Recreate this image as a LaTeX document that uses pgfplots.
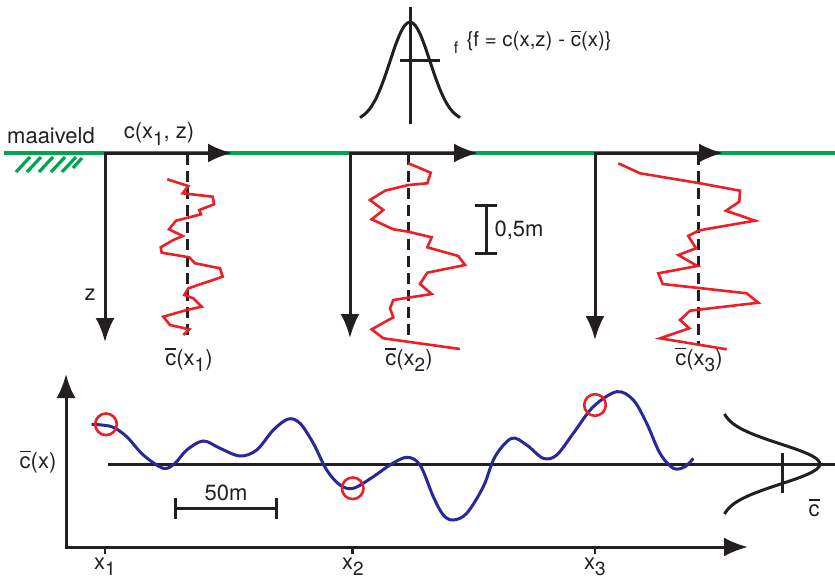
\documentclass[border=0pt]{standalone}
\usepackage{pgfplots}
\pgfplotsset{compat=1.18}
\usepackage{fontspec}
\setmainfont{TeX Gyre Heros}
\usetikzlibrary{arrows.meta}
\definecolor{gr}{RGB}{0,165,80}
\definecolor{rd}{RGB}{236,30,38}
\definecolor{bl}{RGB}{40,40,150}
\definecolor{ink}{RGB}{35,31,32}
\newcommand{\cb}{\makebox[0pt][l]{\raisebox{0.72em}{\rule{0.5em}{0.065em}}}c}
\newcommand{\sub}[1]{\raisebox{-0.55ex}{\fontsize{19}{19}\selectfont #1}}
\tikzset{ar/.style={{Latex[length=24pt,width=19pt]}-{Latex[length=24pt,width=19pt]}}}
\begin{document}
\begin{tikzpicture}
\fontsize{22}{26}\selectfont
\begin{axis}[scale only axis, width=835pt, height=581pt,
  xmin=0, xmax=835, ymin=0, ymax=581, y dir=reverse,
  hide axis, clip=false]
% ground line
\addplot[gr, line width=3.4pt] coordinates {(4,153)(835,153)};
\addplot[gr, line width=3.2pt] coordinates {(16,172)(30,157)};
\addplot[gr, line width=3.2pt] coordinates {(27,172)(41,157)};
\addplot[gr, line width=3.2pt] coordinates {(39,172)(53,157)};
\addplot[gr, line width=3.2pt] coordinates {(51,172)(65,157)};
\addplot[gr, line width=3.2pt] coordinates {(62,172)(76,157)};
\addplot[gr, line width=3.2pt] coordinates {(73,168)(82,158)};
% profile axes
\addplot[ink, line width=3pt, ar] coordinates {(232,153)(105,153)(105,342)};
\addplot[ink, line width=3pt, ar] coordinates {(478,153)(350,153)(350,338)};
\addplot[ink, line width=3pt, ar] coordinates {(723,153)(595,153)(595,340)};
% dashed means
\addplot[ink, line width=3pt, dash pattern=on 11pt off 6pt] coordinates {(187,154)(187,336)};
\addplot[ink, line width=3pt, dash pattern=on 11pt off 6pt] coordinates {(408,154)(408,340)};
\addplot[ink, line width=3pt, dash pattern=on 11pt off 6pt] coordinates {(698,154)(698,346)};
% red profiles
\addplot[rd, line width=2.6pt] coordinates {(167.3,179.3)(188.3,186)(182.7,193.3)(212.7,196.7)(214,204.3)(199.3,210)(201,214.3)(176,220.7)(169,229.3)(177.3,233.3)(182.7,236)(173.3,240)(160.7,247.3)(161.7,252.7)(189.3,257.3)(195,263.3)(220,268.3)(222.7,276.7)(188.3,288.3)(184.3,295)(193.3,298.3)(201.7,306.7)(186.7,310)(163.3,316.7)(170,325)(189.3,329.3)(183.3,335)};
\addplot[rd, line width=2.6pt] coordinates {(408.3,163.3)(430.7,172.7)(427.3,183.3)(408.3,185)(385,190.7)(370,200)(383.3,210)(371.7,219.3)(393.3,229.3)(408.3,231.7)(431.7,237.3)(427.3,247.3)(458.3,256)(465,265)(427.3,272.7)(420,284)(431.7,294)(393.3,300)(390,308.3)(393.3,317.3)(371.7,329.3)(383.3,338.3)(460,349)};
\addplot[rd, line width=2.6pt] coordinates {(618.3,163.3)(640,173.3)(700,183.3)(740,190.7)(739.3,201.7)(726,210.7)(755,220.7)(705,229.3)(698.3,230.7)(688.3,236)(696,248.3)(678.3,255)(697.3,266)(658.3,273.3)(662.7,284)(746.7,293.3)(758.3,302.7)(690,310.7)(680,320)(689.3,328.3)(660,338.3)(726.7,349.3)};
% 0,5m scale
\addplot[ink, line width=3pt] coordinates {(486,205)(486,253)};
\addplot[ink, line width=3pt] coordinates {(475,205)(497,205)};
\addplot[ink, line width=3pt] coordinates {(475,253)(497,253)};
% top gaussian
\addplot[ink, line width=3pt, smooth] coordinates {(360,117.6)(365,114)(370,108.5)(375,100.4)(380,89.5)(385,76.2)(390,61.3)(395,46.5)(400,33.8)(405,25.1)(410,22)(415,25.1)(420,33.8)(425,46.5)(430,61.3)(435,76.2)(440,89.5)(445,100.4)(450,108.5)(455,114)(460,117.6)};
\addplot[ink, line width=3pt] coordinates {(410,7)(410,124)};
\addplot[ink, line width=3pt] coordinates {(400,60)(440,60)};
% lower axes
\addplot[ink, line width=3pt, ar] coordinates {(66,374)(66,547)(748,547)};
\addplot[ink, line width=2.5pt] coordinates {(105,547)(105,554)};
\addplot[ink, line width=2.5pt] coordinates {(352.7,547)(352.7,554)};
\addplot[ink, line width=2.5pt] coordinates {(595,547)(595,554)};
\addplot[ink, line width=3pt] coordinates {(108,464.3)(835,464.3)};
% 50m scale
\addplot[ink, line width=3pt] coordinates {(175,508.3)(276.7,508.3)};
\addplot[ink, line width=3pt] coordinates {(175,498)(175,519)};
\addplot[ink, line width=3pt] coordinates {(276.7,498)(276.7,519)};
% blue curve
\addplot[bl, line width=3pt, smooth, tension=0.55] coordinates {(91.7,424.3)(111.7,426.7)(126.7,436.7)(143.3,455)(163.3,468.3)(175,463.3)(186.7,450)(203.3,441)(220,448.3)(240,456)(256.7,450)(273.3,430)(288.3,419)(300,423.3)(313.3,443.3)(326.7,470)(340,485)(353.3,488.3)(373.3,476.7)(390,465)(406.7,457.3)(420,465)(433.3,496.7)(443.3,515)(453.3,520)(466.7,513.3)(483.3,486.7)(495,456.7)(511.7,438.3)(526.7,445)(543.3,458.3)(556.7,455)(573.3,433.3)(593.3,406.7)(616.7,391.7)(633.3,400)(646.7,423.3)(660,453.3)(673.3,468.3)(685,466.7)(693.3,458.3)};
% red circles
\addplot[rd, only marks, mark=o, mark size=10.8pt, mark options={line width=2.6pt}] coordinates {(106,424.3)(352.7,488.3)(595,405)};
% right gaussian
\addplot[ink, line width=3pt, smooth] coordinates {(724.4,414)(728,419)(733.5,424)(741.6,429)(752.5,434)(765.8,439)(780.7,444)(795.5,449)(808.2,454)(816.9,459)(820,464.3)(816.9,469)(808.2,474)(795.5,479)(780.7,484)(765.8,489)(752.5,494)(741.6,499)(733.5,504)(728,509)(724.4,514)};
\addplot[ink, line width=3pt] coordinates {(782.7,453)(782.7,493)};
% labels
\node[ink] at (51,136) {maaiveld};
\node[ink] at (159,134) {c(x\sub{1}, z)};
\node[ink] at (90,295) {z};
\node[ink] at (189,360) {\cb(x\sub{1})};
\node[ink] at (409,360) {\cb(x\sub{2})};
\node[ink] at (699,360) {\cb(x\sub{3})};
\node[ink, anchor=west] at (487,230) {0,5m};
\node[ink] at (456,48) {\fontsize{16}{16}\selectfont f};
\node[ink, anchor=west] at (459,41) {\fontsize{20.5}{24}\selectfont\{f = c(x,z) - \cb(x)\}};
\node[ink] at (38,462) {\cb(x)};
\node[ink] at (226,493) {50m};
\node[ink] at (105,567) {x\sub{1}};
\node[ink] at (353,567) {x\sub{2}};
\node[ink] at (595,567) {x\sub{3}};
\node[ink] at (814,508) {\cb};
\end{axis}
\pgfresetboundingbox
\path[use as bounding box] (0,0) rectangle (835pt,581pt);
\end{tikzpicture}
\end{document}
